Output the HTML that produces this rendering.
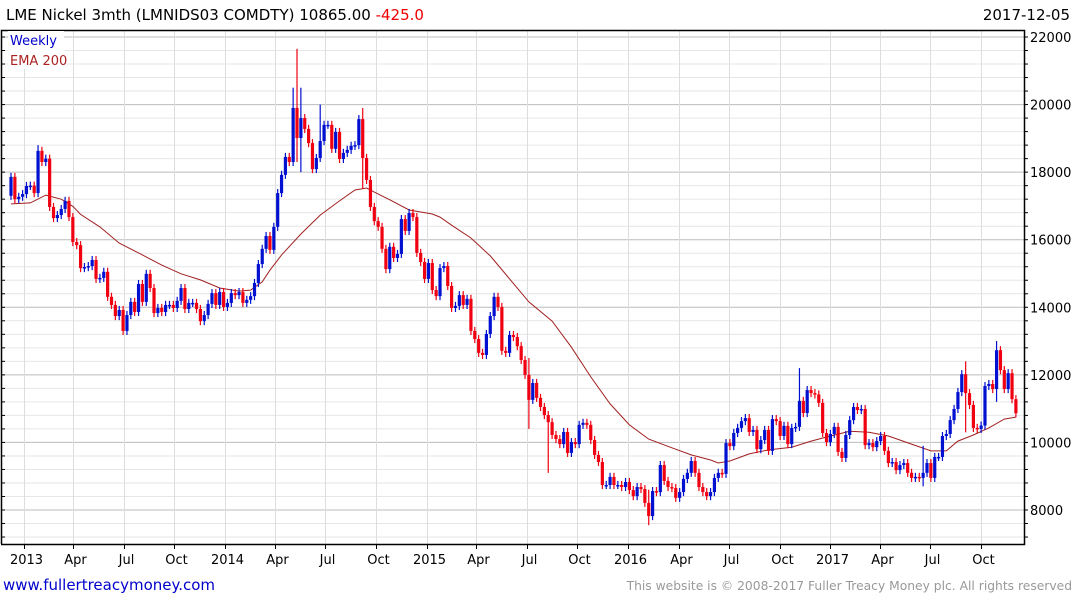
<!DOCTYPE html>
<html><head><meta charset="utf-8"><style>
html,body{margin:0;padding:0;background:#fff;width:1075px;height:600px;overflow:hidden}
svg{display:block;font-family:"DejaVu Sans","Liberation Sans",sans-serif}
</style></head><body>
<svg id="chart" width="1075" height="600" viewBox="0 0 1075 600">
<text x="6" y="20" font-size="15" fill="#000">LME Nickel 3mth (LMNIDS03 COMDTY) 10865.00 <tspan fill="#e00">-425.0</tspan></text>
<text x="1070" y="20" font-size="15" text-anchor="end" fill="#000">2017-12-05</text>
<g id="grid"></g>
<g id="ema"></g>
<g id="candles"></g>
<g id="axes"></g>
<rect x="8" y="31" width="56" height="38" fill="#fff"/>
<text x="10" y="45" font-size="13" fill="#00c">Weekly</text>
<text x="10" y="65" font-size="13" fill="#a22">EMA 200</text>
<text x="3" y="590" font-size="15" fill="#00c">www.fullertreacymoney.com</text>
<text x="1072" y="590" font-size="12.3" text-anchor="end" fill="#999">This website is © 2008-2017 Fuller Treacy Money plc. All rights reserved</text>
</svg>
<script>
const closes = [17860,17200,17270,17350,17590,17600,17380,18630,18300,18400,16970,16640,16730,16910,17150,16670,15930,15840,15160,15190,15220,15400,14840,14870,15050,14310,14070,13740,13920,13300,13770,14160,13860,14690,14160,14990,14570,13830,13980,13860,14070,14070,13980,14190,14570,13950,14130,14130,13950,13590,13770,14100,14420,14070,14450,14010,14130,14420,14360,14450,
14130,14220,14330,14720,15280,15730,16110,15700,16380,17380,17920,18450,18300,19900,19010,19600,19280,18860,18090,18420,18920,19400,19400,18690,19190,18390,18570,18660,18780,18800,19570,18420,17770,16970,16550,16380,15730,15130,15790,15460,15580,16610,16260,16790,16670,15610,15340,14840,15310,14510,14330,15160,15220,14630,13980,14040,14360,14070,14250,13300,13060,12650,12590,
13210,13740,14310,14010,12710,12650,13180,13120,12850,12440,12000,11260,11760,11320,11050,10810,10600,10220,10100,9950,10310,9690,10010,9950,10520,10580,10520,10070,9630,9420,8740,8740,8980,8740,8740,8680,8830,8590,8410,8680,8620,8210,7820,8560,8530,9330,8860,8680,8650,8360,8530,8920,9100,9450,9100,8680,8530,8410,8530,8950,9100,9070,
9980,9890,10280,10430,10630,10720,10310,10370,9800,10070,10370,9750,10690,10630,10190,10490,9950,10430,10460,11230,10870,11550,11460,11420,11170,10280,10010,10250,10460,9720,9540,10220,10660,11050,10960,10990,9920,9980,9860,10040,10190,9750,9390,9420,9180,9330,9390,9100,8950,8980,8950,9100,9390,8950,9570,9570,10190,10250,10660,10990,11490,12020,11460,11110,10430,10400,10500,11670,11730,11580,12730,12140,11580,12050,11280,10865];
const firstOpen = 17300;
const spikeWeeks = [7,29,73,74,75,80,91,134,139,165,204,236,247,255];
const spikeHighs = [18800,13800,20500,21650,20500,20000,19900,12500,10600,8600,12200,9900,12400,13000];
const spikeLows  = [17300,13200,18200,18300,18000,18700,17500,10400,9100,7550,10500,8700,10300,11200];
const emaWeeks = [0,5,9,13,16,18,23,28,34,39,44,49,54,59,62,65,67,70,75,80,85,89,92,94,98,103,106,109,111,114,119,124,129,134,140,145,150,155,160,165,171,176,181,183,186,191,196,202,207,212,217,222,227,233,238,242,245,249,253,257,260];
const emaValues = [17060,17090,17320,17200,16990,16750,16380,15900,15550,15250,14990,14810,14570,14480,14510,14750,15100,15550,16170,16730,17150,17470,17530,17410,17180,16880,16820,16760,16670,16430,16050,15520,14840,14160,13590,12820,11940,11140,10520,10100,9840,9630,9480,9390,9450,9660,9780,9860,10040,10190,10330,10300,10190,9950,9750,9750,10040,10220,10430,10690,10750];
const yTicks = [8000,10000,12000,14000,16000,18000,20000,22000];
const monthLabels = ["2013","Apr","Jul","Oct","2014","Apr","Jul","Oct","2015","Apr","Jul","Oct","2016","Apr","Jul","Oct","2017","Apr","Jul","Oct"];
const monthDates = ["2013-01-01","2013-04-01","2013-07-01","2013-10-01","2014-01-01","2014-04-01","2014-07-01","2014-10-01","2015-01-01","2015-04-01","2015-07-01","2015-10-01","2016-01-01","2016-04-01","2016-07-01","2016-10-01","2017-01-01","2017-04-01","2017-07-01","2017-10-01"];

const NS="http://www.w3.org/2000/svg";
const L=1, R=1024, T=30, B=544;
const X0=11, STEP=3.865;
const xw = i => X0 + i*STEP;
const startDate = new Date("2012-12-09");
const xd = s => xw((new Date(s)-startDate)/(7*86400000));
const y = p => 510 + (8000-p)*473/14000;
function el(tag, attrs, parent){const e=document.createElementNS(NS,tag);for(const k in attrs)e.setAttribute(k,attrs[k]);parent.appendChild(e);return e;}
const grid=document.getElementById('grid'), axes=document.getElementById('axes'), cg=document.getElementById('candles'), eg=document.getElementById('ema');

for(let p=7200;p<=22400;p+=400){
  const yy=y(p); if(yy<T||yy>B) continue;
  const major = p%2000===0;
  const g=el('line',{x1:L,x2:R,y1:yy,y2:yy,stroke:major?'#bbb':'#e6e6e6','stroke-width':1},grid);
  
  
  const t1=el('line',{x1:R,x2:R+4,y1:yy,y2:yy,stroke:'#000'},axes);
  
  
  const t2=el('line',{x1:L,x2:L+4,y1:yy,y2:yy,stroke:'#000'},axes);
  
  
}
yTicks.forEach(p=>{
  const t=el('text',{x:R+6,y:y(p)+5,'font-size':13,fill:'#000'},axes);
  t.textContent=p;
  
  
});
monthDates.forEach((d,k)=>{
  const xx=Math.round(xd(d))+0.5;
  const g=el('line',{x1:xx,x2:xx,y1:T,y2:B,stroke:'#ddd'},grid);
  
  
  const t=el('line',{x1:xx,x2:xx,y1:B,y2:B+5,stroke:'#000'},axes);
  
  
  const lb=el('text',{x:xx+2,y:564,'font-size':13,'text-anchor':'middle',fill:'#000'},axes);
  lb.textContent=monthLabels[k];
  
  
});
const fr=el('path',{d:`M${L+0.5},${B}V${T+0.5}H${R+0.5}V${B+0.5}H${L}`,fill:'none',stroke:'#000','stroke-width':1.5},axes);



const pts = emaWeeks.map((w,k)=>xw(w).toFixed(1)+','+y(emaValues[k]).toFixed(1)).join(' ');
const pl=el('polyline',{points:pts,fill:'none',stroke:'#a02020','stroke-width':1},eg);



closes.forEach((c,i)=>{
  const o = i===0?firstOpen:closes[i-1];
  const up = c>=o;
  const col = up?'#0010d0':'#f00010';
  let hi=Math.max(o,c)+120, lo=Math.min(o,c)-120;
  const s=spikeWeeks.indexOf(i);
  if(s>=0){hi=Math.max(hi,spikeHighs[s]);lo=Math.min(lo,spikeLows[s]);}
  const xx=xw(i);
  const w=el('line',{x1:xx,x2:xx,y1:y(hi),y2:y(lo),stroke:col,'stroke-width':1.2},cg);
  
  
  const top=y(Math.max(o,c)), h=Math.max(1.5,y(Math.min(o,c))-top);
  const b=el('rect',{x:xx-1.6,y:top,width:3.2,height:h,fill:col},cg);
  
  
});
</script>
</body></html>
